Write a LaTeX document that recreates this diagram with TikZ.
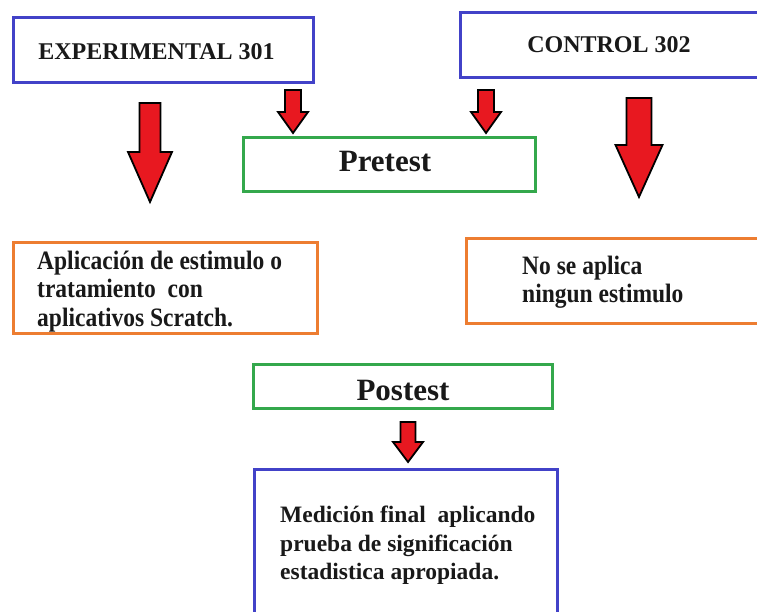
\documentclass[tikz,border=0pt]{standalone}
\usepackage{fontspec}
\setmainfont{Liberation Serif}
\definecolor{bxblue}{RGB}{66,66,200}
\definecolor{bxgreen}{RGB}{52,168,76}
\definecolor{bxorange}{RGB}{237,125,49}
\definecolor{arred}{RGB}{232,24,32}
\definecolor{txt}{RGB}{25,25,25}
\tikzset{
  box/.style={draw, line width=3pt, fill=white, inner sep=0pt},
  bluebox/.style={box, draw=bxblue},
  greenbox/.style={box, draw=bxgreen},
  orangebox/.style={box, draw=bxorange},
  hdr/.style={font=\fontsize{24}{28}\selectfont\bfseries, inner sep=0pt, text=txt, anchor=base},
  big/.style={font=\fontsize{31}{36}\selectfont\bfseries, inner sep=0pt, text=txt, anchor=base},
  body/.style={font=\fontsize{23.5}{28.5}\selectfont\bfseries, align=left, inner sep=0pt, text=txt, anchor=north west},
  tallbody/.style={body, font=\fontsize{23.5}{25}\selectfont\bfseries, yscale=1.13, transform shape},
  blockarrow/.style={draw=black, line width=1.8pt, fill=arred, line join=miter}
}
% name, center x, top y, tip y, shaft width, head width, head start y
\newcommand{\blkarrow}[7]{%
  \coordinate (#1) at (#2,#3);
  \draw[blockarrow] (#2-#5/2,#3) -- (#2+#5/2,#3) -- (#2+#5/2,#7) -- (#2+#6/2,#7)
    -- (#2,#4) -- (#2-#6/2,#7) -- (#2-#5/2,#7) -- cycle;}
\begin{document}
\begin{tikzpicture}[x=1pt,y=-1pt]
\useasboundingbox (0,0) rectangle (757,612);
\fill[white] (0,0) rectangle (757,612);

% boxes
\node[bluebox, minimum width=300pt, minimum height=65pt] (exp) at (163,50.5) {};
\node[hdr] (expt) at (156.5,60) {EXPERIMENTAL 301};

\node[bluebox, minimum width=305pt, minimum height=65pt] (ctl) at (612.5,45.5) {};
\node[hdr] (ctlt) at (609,53) {CONTROL 302};

\node[greenbox, minimum width=292pt, minimum height=54pt] (pre) at (389,165) {};
\node[big] (pret) at (385,172) {Pretest};

\node[orangebox, minimum width=304pt, minimum height=90pt] (trat) at (165,288) {};
\node[tallbody] (tratt) at (37,251) {Aplicación de estimulo o\\tratamiento\ \ con\\aplicativos Scratch.};

\node[orangebox, minimum width=299pt, minimum height=84pt] (noap) at (615.5,281) {};
\node[tallbody] (noapt) at (522,256) {No se aplica\\ningun estimulo};

\node[greenbox, minimum width=299pt, minimum height=44pt] (post) at (402.5,386) {};
\node[big] (postt) at (403,400) {Postest};

\node[bluebox, minimum width=303pt, minimum height=160pt] (med) at (405.5,549) {};
\node[body] (medt) at (280,506) {Medición final\ \ aplicando\\prueba de significación\\estadistica apropiada.};

% arrows
\blkarrow{a1}{150}{103}{202}{21}{44}{152}
\blkarrow{a2}{639}{98}{197}{25}{47}{145}
\blkarrow{a3}{293}{90}{133}{16}{30}{112}
\blkarrow{a4}{486}{90}{133}{16}{30}{112}
\blkarrow{a5}{408}{422}{462}{15}{30}{442}
\end{tikzpicture}
\end{document}
